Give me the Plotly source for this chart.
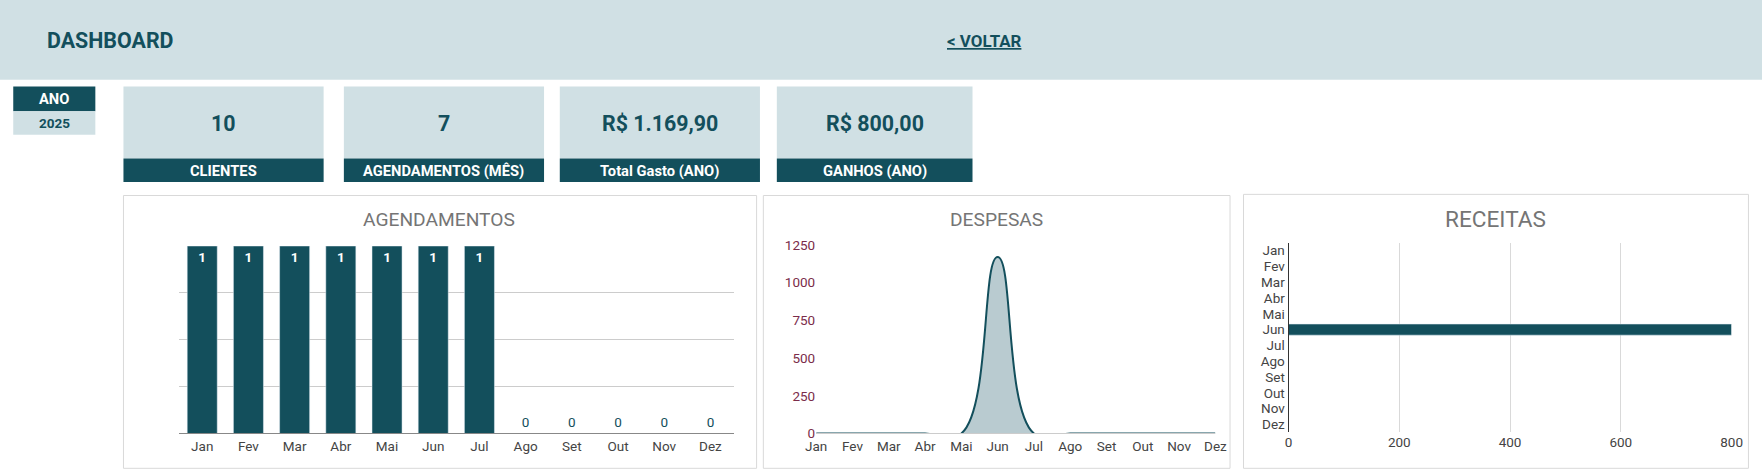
import plotly.graph_objects as go

meses = ["Jan","Fev","Mar","Abr","Mai","Jun","Jul","Ago","Set","Out","Nov","Dez"]
agendamentos = [1,1,1,1,1,1,1,0,0,0,0,0]
despesas = [0,0,0,0,0,1169.9,0,0,0,0,0,0]
receitas = [0,0,0,0,0,800,0,0,0,0,0,0]
kpi_valores = ["10","7","R$ 1.169,90","R$ 800,00"]
kpi_rotulos = ["CLIENTES","AGENDAMENTOS (MÊS)","Total Gasto (ANO)","GANHOS (ANO)"]

W, H = 1762, 476
W0 = 1562.0
K = W / W0
H0 = H / K
DARK = "#134f5c"; LIGHT = "#d0e0e4"
def px(x): return ((x - 10) / 0.99) / W0
def py(y): return 1 - ((y - 6) / 0.971) / H0
def fs(s): return round(s * K, 1)

fig = go.Figure()
shapes = []; ann = []
def rect(x0, y0, x1, y1, fill, line=None):
    shapes.append(dict(type="rect", xref="paper", yref="paper", x0=px(x0), x1=px(x1), y0=py(y1), y1=py(y0),
                       fillcolor=fill, line=dict(width=1 if line else 0, color=line or fill), layer="below"))
def text(x, y, t, size, color, bold=True, xanchor="center"):
    ann.append(dict(xref="paper", yref="paper", x=px(x), y=py(y), text=("<b>%s</b>" % t) if bold else t,
                    showarrow=False, xanchor=xanchor, yanchor="middle",
                    font=dict(size=fs(size), color=color, family="Roboto")))

rect(-20, -20, W0 + 30, 70, LIGHT)
text(40, 35, "DASHBOARD", 19, DARK, xanchor="left")
text(876, 35, "<u>&lt; VOLTAR</u>", 15, DARK)
rect(12, 76, 85, 98, DARK); text(48.5, 87, "ANO", 13, "white")
rect(12, 98, 85, 119, LIGHT); text(48.5, 108.5, "2025", 12, DARK)
cards = [(110, 288), (306, 484), (498, 676), (691, 865)]
for (a, b), v, r in zip(cards, kpi_valores, kpi_rotulos):
    rect(a, 76, b, 140, LIGHT); text((a+b)/2, 109, v, 19, DARK)
    rect(a, 140, b, 161, DARK); text((a+b)/2, 151, r, 13, "white")
for a, b, t0 in [(110, 673, 173), (679, 1094, 173), (1106, 1555, 172)]:
    rect(a, t0, b, 416, "white", "#d9d9d9")
text(391, 194, "AGENDAMENTOS", 17, "#757575", bold=False)
text(886, 194, "DESPESAS", 17, "#757575", bold=False)
text(1330, 194, "RECEITAS", 20, "#757575", bold=False)

fig.add_bar(x=meses, y=agendamentos, marker_color=DARK, xaxis="x", yaxis="y",
            text=[("<b>%d</b>" % v) if v > 0 else str(v) for v in agendamentos],
            textposition=["inside" if v > 0 else "outside" for v in agendamentos],
            insidetextanchor="end",
            textfont=dict(size=fs(12), family="Roboto", color=["white" if v > 0 else DARK for v in agendamentos]),
            cliponaxis=False, width=0.65)
fig.add_scatter(x=meses, y=despesas, mode="lines", line=dict(shape="spline", color=DARK, width=2, smoothing=1.3),
                fill="tozeroy", fillcolor="#b9cbd0", xaxis="x2", yaxis="y2")
fig.add_bar(y=meses, x=receitas, orientation="h", marker_color=DARK, width=0.7, xaxis="x3", yaxis="y3")

tf = dict(family="Roboto", size=fs(12), color="#444")
fig.update_layout(
    width=W, height=H, margin=dict(l=0, r=0, t=0, b=0), showlegend=False,
    paper_bgcolor="white", plot_bgcolor="rgba(0,0,0,0)", shapes=shapes, annotations=ann,
    xaxis=dict(domain=[px(159.5), px(652.5)], anchor="y", tickfont=tf, showgrid=False,
               showline=True, linecolor="#888", ticks=""),
    yaxis=dict(domain=[py(385), py(218)], range=[0, 1], dtick=0.25, showticklabels=False,
               gridcolor="#cccccc", zeroline=False, anchor="x"),
    xaxis2=dict(domain=[px(726), px(1081)], anchor="y2", range=[0, 11], tickfont=tf, showgrid=False,
                showline=True, linecolor="#ccc"),
    yaxis2=dict(domain=[py(385), py(217)], range=[0, 1250], dtick=250, showgrid=False, zeroline=False,
                anchor="x2", tickfont=dict(family="Roboto", size=fs(12), color="#7b2c4a")),
    xaxis3=dict(domain=[px(1146), px(1540)], anchor="y3", range=[0, 800], dtick=200, tickfont=tf,
                gridcolor="#d9d9d9", zeroline=False),
    yaxis3=dict(domain=[py(384), py(215)], autorange="reversed", tickfont=tf, showgrid=False,
                tickmode="array", tickvals=meses, ticktext=meses,
                showline=True, linecolor="#333", anchor="x3"),
)
fig.write_html("out.html", config={"displayModeBar": False},
               post_script="document.body.style.margin='0';document.body.style.padding='0';"
                           "document.documentElement.style.overflow='hidden';")
